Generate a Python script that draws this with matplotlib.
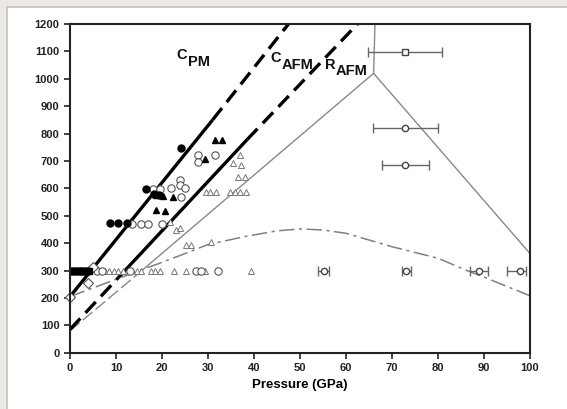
import numpy as np
import matplotlib
matplotlib.use("Agg")
import matplotlib.pyplot as plt
from matplotlib.patches import Rectangle

plt.rcParams['font.family'] = ['Liberation Sans', 'DejaVu Sans']
plt.rcParams['font.weight'] = 'bold'

# ---- lines (pressure GPa, temperature K) ----
cpm_solid_P = [0, 31]
cpm_solid_T = [205, 850]
cpm_dash_P = [31, 47.5]
cpm_dash_T = [850, 1200]

cafm_dash1_P = [0, 10.5]
cafm_dash1_T = [85, 274]
cafm_solid_P = [10.5, 38.5]
cafm_solid_T = [274, 778]
cafm_dash2_P = [38.5, 62.5]
cafm_dash2_T = [778, 1200]

rafm_dash_P = [0, 14]
rafm_dash_T = [80, 277]
rafm_P = [14, 66, 100]
rafm_T = [277, 1020, 362]
rafm_vert_P = [66, 66.3]
rafm_vert_T = [1020, 1200]

melt_P = [0, 10, 20, 25, 30, 38, 45, 50, 55, 60, 70, 80, 86, 90, 100]
melt_T = [205, 268, 330, 362, 395, 424, 445, 452, 448, 436, 387, 345, 302, 276, 208]

# ---- symbols ----
fcirc_P = [0.3, 0.9, 1.5, 2.1, 2.7, 3.3, 3.9, 8.7, 10.5, 12.3, 16.6, 18.3, 19.3, 24.2]
fcirc_T = [297, 297, 297, 297, 297, 297, 297, 472, 472, 472, 597, 578, 575, 746]

fsq_P = [1.0, 2.0, 3.0, 4.2]
fsq_T = [297, 297, 297, 297]

ftri_P = [18.8, 20.6, 18.8, 20.2, 22.4, 29.3, 31.5, 33.0]
ftri_T = [521, 518, 575, 572, 569, 709, 776, 776]

ocirc_P = [5.8, 7.0, 13.0, 27.3, 28.5, 32.2, 13.4, 15.5, 17.0, 19.9, 18.0, 19.5,
           22.0, 24.0, 24.0, 25.0, 24.2, 27.9, 27.9, 31.5]
ocirc_T = [297, 297, 297, 297, 297, 297, 469, 469, 469, 469, 597, 597,
           600, 630, 612, 600, 569, 721, 697, 721]

otri_P = [7.5, 8.5, 9.5, 10.5, 11.5, 14.5, 15.5, 17.5, 18.5, 19.5, 22.5, 25.3, 29.3, 39.3,
          21.7, 23.1, 24.0, 25.3, 26.2, 30.7, 36.9, 35.4, 37.2, 36.5, 38.0,
          29.5, 30.5, 31.7, 34.7, 35.8, 37.0, 38.3]
otri_T = [297, 297, 297, 297, 297, 297, 297, 297, 297, 297, 297, 297, 297, 297,
          478, 448, 454, 393, 393, 405, 721, 691, 685, 642, 642,
          588, 588, 588, 588, 588, 588, 588]

odia_P = [0, 4, 5.1]
odia_T = [204, 253, 314]

# points with pressure error bars
err_P = [72.9, 72.9, 72.9, 55.2, 73.1, 88.9, 97.9]
err_T = [1096, 822, 685, 298, 298, 298, 298]
err_lo = [8.2, 7.0, 5.1, 1.2, 0.9, 2.0, 2.8]
err_hi = [7.9, 7.0, 5.2, 1.0, 1.0, 1.9, 1.2]
err_mk = ['s', 'o', 'o', 'o', 'o', 'o', 'o']

fig = plt.figure(figsize=(5.67, 4.09), dpi=100, facecolor='#ece8e5')
fig.patches.append(Rectangle((7 / 567, -0.01), 1.0, 1 - 7 / 409 + 0.01,
                             transform=fig.transFigure, facecolor='white',
                             edgecolor='#c8bcb5', linewidth=1.2, zorder=-10))
ax = fig.add_axes([0.1235, 0.1376, 0.8112, 0.8037])

gray = '#888888'
ax.plot(rafm_dash_P, rafm_dash_T, color=gray, lw=1.0, dashes=(9, 3))
ax.plot(rafm_P, rafm_T, color=gray, lw=1.0)
ax.plot(rafm_vert_P, rafm_vert_T, color=gray, lw=1.0)
ax.plot(melt_P, melt_T, color='#808080', lw=1.1, dashes=(10, 3, 2, 3))

ax.plot(cpm_solid_P, cpm_solid_T, color='black', lw=2.4, solid_capstyle='butt')
ax.plot(cpm_dash_P, cpm_dash_T, color='black', lw=2.4, dashes=(4.5, 2.3))
ax.plot(cafm_dash1_P, cafm_dash1_T, color='black', lw=2.4, dashes=(4.5, 2.3))
ax.plot(cafm_solid_P, cafm_solid_T, color='black', lw=2.4, solid_capstyle='butt')
ax.plot(cafm_dash2_P, cafm_dash2_T, color='black', lw=2.4, dashes=(4.5, 2.3))

ax.plot(otri_P, otri_T, '^', ms=4.8, mfc='white', mec='#777777', mew=0.7, ls='none')
ax.plot(ocirc_P, ocirc_T, 'o', ms=5.3, mfc='white', mec='#555555', mew=0.8, ls='none')
ax.plot(odia_P, odia_T, 'D', ms=5, mfc='white', mec='#555555', mew=0.8, ls='none',
        clip_on=False)
ax.plot(fcirc_P, fcirc_T, 'o', ms=5, color='black', ls='none')
ax.plot(fsq_P, fsq_T, 's', ms=5, color='black', ls='none')
ax.plot(ftri_P, ftri_T, '^', ms=5, color='black', ls='none')

for p, t, lo, hi, mk in zip(err_P, err_T, err_lo, err_hi, err_mk):
    ax.errorbar(p, t, xerr=[[lo], [hi]], fmt=mk, ms=4.5, mfc='white', mec='#444444',
                ecolor='#666666', elinewidth=1.0, capsize=3.5, capthick=1.0)

# labels
lab = dict(fontsize=10.5, fontweight='bold', color='#111111')
ax.text(23.2, 1087, 'C', ha='left', va='center', **lab)
ax.text(25.6, 1062, 'PM', ha='left', va='center', **lab)
ax.text(43.6, 1077, 'C', ha='left', va='center', **lab)
ax.text(46.0, 1052, 'AFM', ha='left', va='center', **lab)
ax.text(55.4, 1052, 'R', ha='left', va='center', **lab)
ax.text(57.7, 1027, 'AFM', ha='left', va='center', **lab)

ax.set_xlim(0, 100)
ax.set_ylim(0, 1200)
ax.set_xticks(np.arange(0, 101, 10))
ax.set_yticks(np.arange(0, 1201, 100))
ax.tick_params(direction='out', length=4, width=1.2, labelsize=8, colors='#222222')
for lbl in ax.get_xticklabels() + ax.get_yticklabels():
    lbl.set_fontweight('bold')
for s in ax.spines.values():
    s.set_linewidth(1.5)
    s.set_color('#222222')
ax.set_xlabel('Pressure (GPa)', fontsize=9.5, fontweight='bold', labelpad=4)

fig.savefig('out.png', dpi=100, facecolor=fig.get_facecolor())
